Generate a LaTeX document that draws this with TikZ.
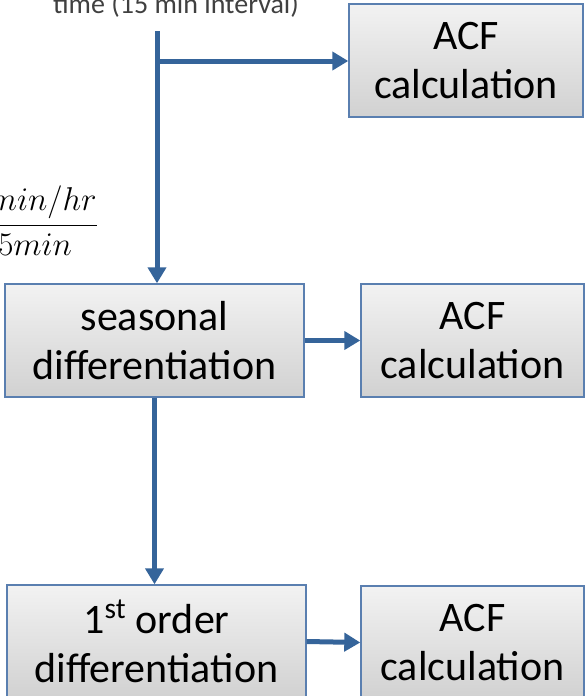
\RequirePackage{fix-cm}
\documentclass[tikz,border=0pt]{standalone}
\usepackage{fontspec}
\setmainfont{Carlito}
\usetikzlibrary{arrows.meta}

\definecolor{flowblue}{HTML}{35649A}
\definecolor{boxedge}{HTML}{5A7FB0}

\begin{document}
\begin{tikzpicture}[
    x=1pt, y=-1pt,
    stepbox/.style={rectangle,draw=boxedge,line width=1.4pt,top color=black!5,bottom color=black!18,
        minimum height=113pt,align=center,inner sep=0pt,font=\fontsize{42}{49}\selectfont},
    flow/.style={draw=flowblue,line width=5pt,-{Triangle[length=16pt,width=18pt]}},
    every node/.style={text=black}
]
\useasboundingbox (0,0) rectangle (585,696);
\clip (0,0) rectangle (585,696);

% opis wejscia
\node[anchor=base,text=black!75,font=\fontsize{28}{32}\selectfont] (timelbl) at (176,13) {time (15 min interval)};
\node[anchor=base east,inner sep=0pt,font=\fontsize{33}{38}\selectfont] (ratio) at (98,233) {$\displaystyle\frac{60min/hr}{15min}$};

% bloki
\node[stepbox,minimum width=234pt] (acf1) at (466,60.5) {ACF\\calculation};
\node[stepbox,minimum width=299pt] (seas) at (154.5,340.5) {seasonal\\differentiation};
\node[stepbox,minimum width=223pt] (acf2) at (472.5,340.5) {ACF\\calculation};
\node[stepbox,minimum width=299pt] (first) at (156.5,641.5) {1\textsuperscript{st} order\\differentiation};
\node[stepbox,minimum width=223pt] (acf3) at (472.5,642.5) {ACF\\calculation};

% punkty pomocnicze
\coordinate (start) at (157,31);
\coordinate (split) at (157,61);

% strzalki
\draw[draw=flowblue,line width=5pt] (start) -- (split);
\draw[flow] (split) -- (split |- seas.north);
\draw[flow] (split) -- (split -| acf1.west);
\draw[flow] (seas.east) -- (acf2.west);
\draw[flow] (seas.south) -- (seas.south |- first.north);
\draw[flow] (first.east) -- (acf3.west);

\end{tikzpicture}
\end{document}
